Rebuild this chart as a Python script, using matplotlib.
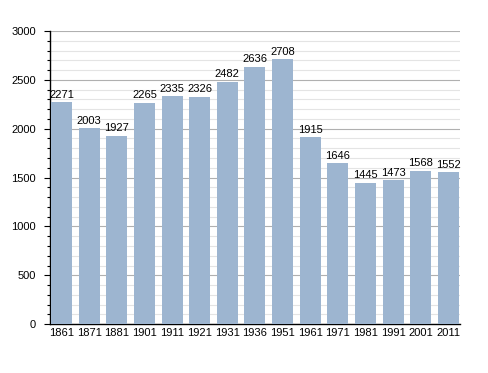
import matplotlib
matplotlib.use("Agg")
import matplotlib.pyplot as plt
from matplotlib.ticker import MultipleLocator

years = ["1861", "1871", "1881", "1901", "1911", "1921", "1931", "1936",
         "1951", "1961", "1971", "1981", "1991", "2001", "2011"]
population = [2271, 2003, 1927, 2265, 2335, 2326, 2482, 2636,
              2708, 1915, 1646, 1445, 1473, 1568, 1552]

plt.rcParams['font.family'] = ['Liberation Sans', 'DejaVu Sans']

fig = plt.figure(figsize=(4.88, 3.73), dpi=100)
ax = fig.add_axes([0.1025, 0.131, 0.84, 0.786])

w = 0.76
x = list(range(len(years)))
ax.bar(x, population, width=w, align='edge', color='#9db5d0', zorder=3)
for i, v in enumerate(population):
    ax.text(i + w / 2, v + 25, str(v), ha='center', va='bottom', fontsize=8, zorder=4)

ax.set_xlim(-0.04, 14.8)
ax.set_ylim(0, 3000)
ax.set_xticks([i + w / 2 for i in x])
ax.set_xticklabels(years, fontsize=8)
ax.tick_params(axis='x', length=0, pad=3)
ax.yaxis.set_major_locator(MultipleLocator(500))
ax.yaxis.set_minor_locator(MultipleLocator(100))
ax.tick_params(axis='y', which='major', labelsize=8, length=4, width=0.8, pad=6)
ax.tick_params(axis='y', which='minor', length=2.5, width=0.8)
ax.grid(axis='y', which='major', color='#b0b0b0', linewidth=0.8, zorder=0)
ax.grid(axis='y', which='minor', color='#e4e4e4', linewidth=0.8, zorder=0)
for s in ['top', 'right']:
    ax.spines[s].set_visible(False)
ax.spines['left'].set_linewidth(1)
ax.spines['bottom'].set_linewidth(1)

fig.savefig("out.png", dpi=100)
